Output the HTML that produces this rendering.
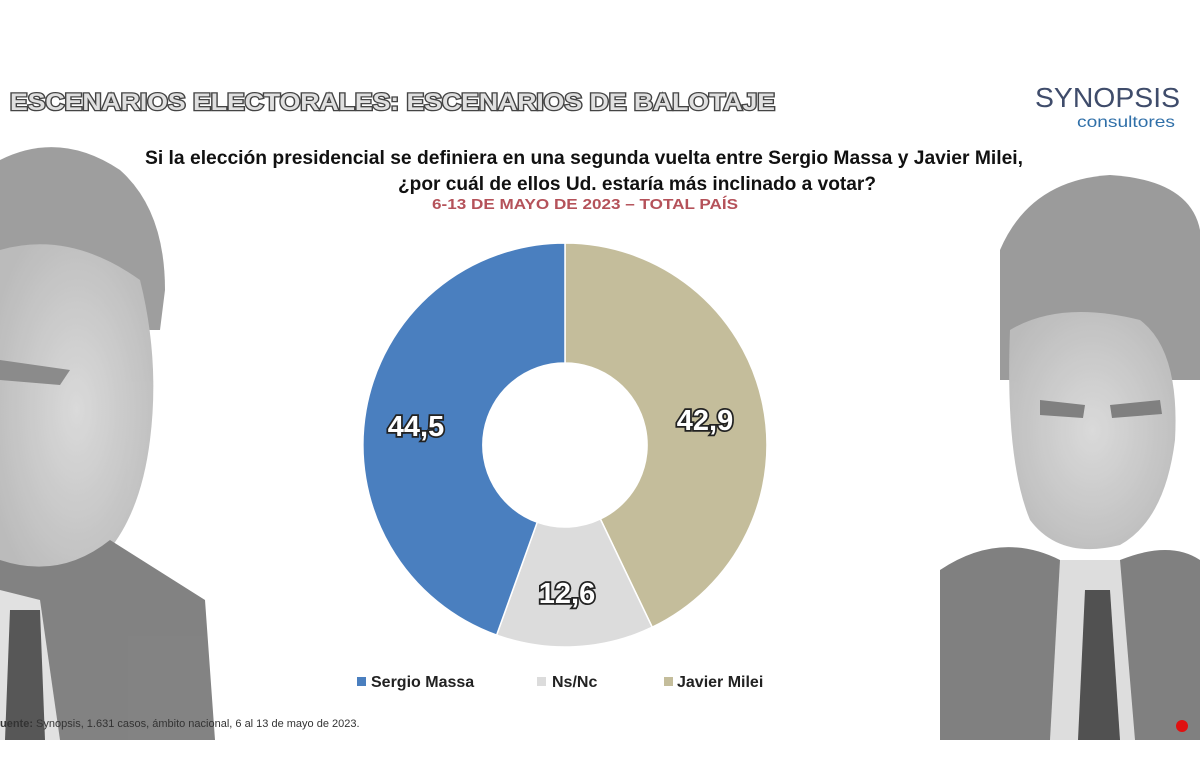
<!DOCTYPE html>
<html><head><meta charset="utf-8"><style>
body{margin:0;background:#fff;}
svg{display:block;}
</style></head><body>
<svg width="1200" height="759" viewBox="0 0 1200 759" xmlns="http://www.w3.org/2000/svg">
<defs>
<radialGradient id="face" cx="50%" cy="50%" r="60%"><stop offset="0" stop-color="#d4d4d4"/><stop offset="1" stop-color="#b0b0b0"/></radialGradient>
</defs>
<rect width="1200" height="759" fill="#fff"/>
<!-- left person -->
<g opacity="0.85">
<path d="M0 160 Q60 130 120 170 Q165 210 165 290 L160 330 L0 330 Z" fill="#8e8e8e"/>
<path d="M0 250 Q70 230 140 280 Q160 360 150 440 Q140 520 100 560 Q50 585 0 570 Z" fill="url(#face)"/>
<path d="M0 360 L70 370 L60 385 L0 380 Z" fill="#777"/>
<path d="M0 560 Q60 580 110 540 L205 600 L215 740 L0 740 Z" fill="#6d6d6d"/>
<path d="M0 590 L40 600 L60 740 L0 740 Z" fill="#dcdcdc"/>
<path d="M10 610 L40 610 L45 740 L5 740 Z" fill="#3a3a3a"/>
</g>
<!-- right person -->
<g opacity="0.85">
<path d="M1000 250 Q1030 180 1110 175 Q1190 180 1200 230 L1200 380 L1000 380 Z" fill="#8a8a8a"/>
<path d="M1010 330 Q1060 300 1140 320 Q1180 350 1175 440 Q1165 520 1120 545 Q1060 560 1030 520 Q1005 460 1010 330 Z" fill="url(#face)"/>
<path d="M1040 400 L1085 405 L1083 418 L1040 415 Z" fill="#6a6a6a"/>
<path d="M1110 405 L1160 400 L1162 414 L1112 418 Z" fill="#6a6a6a"/>
<path d="M940 570 Q1000 530 1060 560 L1120 560 Q1170 540 1200 560 L1200 740 L940 740 Z" fill="#6a6a6a"/>
<path d="M1060 560 L1120 560 L1135 740 L1050 740 Z" fill="#d8d8d8"/>
<path d="M1085 590 L1110 590 L1120 740 L1078 740 Z" fill="#333"/>
</g>
<circle cx="1182" cy="726" r="6" fill="#e01010"/>
<!-- title -->
<text x="10" y="110" font-family="Liberation Sans, sans-serif" font-weight="bold" font-size="24" fill="#e0e0e0" stroke="#444" stroke-width="2.6" paint-order="stroke" textLength="765" lengthAdjust="spacingAndGlyphs">ESCENARIOS ELECTORALES: ESCENARIOS DE BALOTAJE</text>
<text x="1035" y="107" font-family="Liberation Sans Narrow, Liberation Sans, sans-serif" font-size="28" fill="#3f4c6b" textLength="145" lengthAdjust="spacingAndGlyphs">SYNOPSIS</text>
<text x="1077" y="127" font-family="Liberation Sans Narrow, Liberation Sans, sans-serif" font-size="16" fill="#2f6fa8" textLength="98" lengthAdjust="spacingAndGlyphs">consultores</text>
<text x="145" y="164" font-family="Liberation Sans Narrow, Liberation Sans, sans-serif" font-size="19" font-weight="bold" fill="#111" textLength="878" lengthAdjust="spacingAndGlyphs">Si la elección presidencial se definiera en una segunda vuelta entre Sergio Massa y Javier Milei,</text>
<text x="398" y="190" font-family="Liberation Sans Narrow, Liberation Sans, sans-serif" font-size="19" font-weight="bold" fill="#111" textLength="478" lengthAdjust="spacingAndGlyphs">¿por cuál de ellos Ud. estaría más inclinado a votar?</text>
<text x="432" y="209" font-family="Liberation Sans Narrow, Liberation Sans, sans-serif" font-size="15" font-weight="bold" fill="#b5525a" textLength="306" lengthAdjust="spacingAndGlyphs">6-13 DE MAYO DE 2023 – TOTAL PAÍS</text>
<!-- donut -->
<path d="M565 243 A202 202 0 0 1 652.2 627.2 L600.4 519 A82 82 0 0 0 565 363 Z" fill="#c4bd9b" stroke="#fff" stroke-width="1.5"/>
<path d="M652.2 627.2 A202 202 0 0 1 496.6 635.1 L537.2 522.2 A82 82 0 0 0 600.4 519 Z" fill="#dcdcdc" stroke="#fff" stroke-width="1.5"/>
<path d="M496.6 635.1 A202 202 0 0 1 565 243 L565 363 A82 82 0 0 0 537.2 522.2 Z" fill="#4a7fbf" stroke="#fff" stroke-width="1.5"/>
<g font-family="Liberation Sans, sans-serif" font-weight="bold" font-size="29" fill="#fff" stroke="#222" stroke-width="3.5" paint-order="stroke" text-anchor="middle">
<text x="416" y="436">44,5</text>
<text x="705" y="430">42,9</text>
<text x="567" y="603">12,6</text>
</g>
<!-- legend -->
<g font-family="Liberation Sans, sans-serif" font-weight="bold" font-size="16" fill="#222">
<rect x="357" y="677" width="9" height="9" fill="#4a7fbf"/><text x="371" y="687">Sergio Massa</text>
<rect x="537" y="677" width="9" height="9" fill="#dcdcdc"/><text x="552" y="687">Ns/Nc</text>
<rect x="664" y="677" width="9" height="9" fill="#c4bd9b"/><text x="677" y="687">Javier Milei</text>
</g>
<text x="0" y="727" font-family="Liberation Sans, sans-serif" font-size="11" fill="#333"><tspan font-weight="bold">uente:</tspan> Synopsis, 1.631 casos, ámbito nacional, 6 al 13 de mayo de 2023.</text>
</svg>
</body></html>
